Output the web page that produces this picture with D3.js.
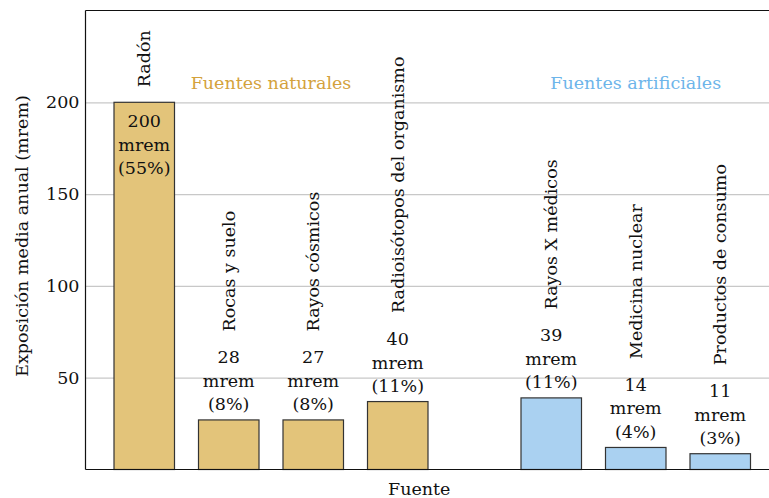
<!DOCTYPE html>
<html>
<head>
	<meta charset="utf-8">
	<title>Exposición media anual</title>
	<style>
		body { margin: 0; background: #fff; }
		text { font-family: "DejaVu Serif", serif; }
	</style>
</head>
<body>
	<svg id="canvas" width="769" height="498"></svg>
	<script src="https://cdn.jsdelivr.net/npm/d3@7"></script>
	<script>
		// data
		let categories = ["Radón", "Rocas y suelo", "Rayos cósmicos", "Radioisótopos del organismo",
			"Rayos X médicos", "Medicina nuclear", "Productos de consumo"];
		let groups = ["nat", "nat", "nat", "nat", "art", "art", "art"];
		let barValues = [200, 27, 27, 37, 39, 12, 8.6];   // drawn bar heights
		let doseLabels = ["200", "28", "27", "40", "39", "14", "11"];
		let shareLabels = ["55%", "8%", "8%", "11%", "11%", "4%", "3%"];
		let groupNames = ["nat", "art"];
		let groupTitles = ["Fuentes naturales", "Fuentes artificiales"];
		let yTicks = [50, 100, 150, 200];

		let colors = { nat: "#e3c47a", art: "#aad1f1" };
		let titleColors = { nat: "#d4a23c", art: "#6db5ea" };
		let fs = 17.5;

		let svg = d3.select("#canvas");
		let margin = { top: 10.5, left: 85.5, bottom: 28.5 };
		let width = +svg.attr("width") - margin.left;
		let height = +svg.attr("height") - margin.top - margin.bottom;

		let g = svg.append("g")
			.attr("transform", "translate(" + margin.left + "," + margin.top + ")");

		// scales
		let y = d3.scaleLinear().domain([0, 250]).range([height, 0]);
		let x = d3.scaleBand()
			.domain(categories)
			.range([28.5, 596])
			.paddingInner(0.284)
			.paddingOuter(0);
		let groupGap = 69;
		let xPos = function(i) { return x(categories[i]) + (groups[i] === "art" ? groupGap : 0); };
		let bw = x.bandwidth();

		// gridlines + tick labels
		let yAxis = g.append("g")
			.call(d3.axisLeft(y).tickValues(yTicks).tickSize(-width).tickPadding(6));
		yAxis.select(".domain").remove();
		yAxis.selectAll(".tick line").attr("stroke", "#c8c8c8").attr("stroke-width", 1.2);
		yAxis.selectAll(".tick text")
			.attr("font-family", "DejaVu Serif")
			.attr("font-size", fs)
			.attr("fill", "#111");

		// bars
		let idx = d3.range(categories.length);
		g.selectAll("rect.bar").data(idx).enter()
			.append("rect")
			.attr("class", "bar")
			.attr("x", function(i) { return xPos(i); })
			.attr("y", function(i) { return y(barValues[i]); })
			.attr("width", bw)
			.attr("height", function(i) { return y(0) - y(barValues[i]); })
			.attr("fill", function(i) { return colors[groups[i]]; })
			.attr("stroke", "#333")
			.attr("stroke-width", 1.2);

		// value labels (three lines) and rotated category names
		let lineH = 23.5;
		let valueLabels = g.selectAll("text.val").data(idx).enter()
			.append("text")
			.attr("class", "val")
			.attr("text-anchor", "middle")
			.attr("font-size", fs)
			.attr("fill", "#111");
		valueLabels.each(function(i) {
			let t = d3.select(this);
			let cx = xPos(i) + bw / 2;
			let inside = barValues[i] > 100;
			let first = inside ? y(barValues[i]) + 25 : y(barValues[i]) - 9.5 - 2 * lineH;
			[doseLabels[i], "mrem", "(" + shareLabels[i] + ")"].forEach(function(s, k) {
				t.append("tspan").attr("x", cx).attr("y", first + k * lineH).text(s);
			});
			let start = inside ? y(barValues[i]) - 15 : first - 13 - 19;
			g.append("text")
				.attr("transform", "translate(" + (cx + 6) + "," + start + ") rotate(-90)")
				.attr("font-size", fs)
				.attr("fill", "#111")
				.text(categories[i]);
		});

		// group titles
		groupNames.forEach(function(gr, k) {
			let members = idx.filter(function(i) { return groups[i] === gr; });
			let x0 = xPos(members[0]);
			let x1 = xPos(members[members.length - 1]) + bw;
			g.append("text")
				.attr("x", (x0 + x1) / 2)
				.attr("y", 78.5)
				.attr("text-anchor", "middle")
				.attr("font-size", fs)
				.attr("fill", titleColors[gr])
				.text(groupTitles[k]);
		});

		// frame lines
		g.append("line").attr("x1", 0).attr("x2", 0).attr("y1", 0).attr("y2", height)
			.attr("stroke", "#111").attr("stroke-width", 1.2);
		g.append("line").attr("x1", 0).attr("x2", width).attr("y1", 0).attr("y2", 0)
			.attr("stroke", "#111").attr("stroke-width", 1.2);
		g.append("line").attr("x1", 0).attr("x2", width).attr("y1", height).attr("y2", height)
			.attr("stroke", "#111").attr("stroke-width", 1.2);

		// axis titles
		g.append("text")
			.attr("x", width / 2 - 8)
			.attr("y", height + 25)
			.attr("text-anchor", "middle")
			.attr("font-size", fs)
			.attr("fill", "#111")
			.text("Fuente");

		svg.append("text")
			.attr("transform", "translate(28,236) rotate(-90)")
			.attr("text-anchor", "middle")
			.attr("font-size", fs)
			.attr("fill", "#111")
			.text("Exposición media anual (mrem)");
	</script>
</body>
</html>
